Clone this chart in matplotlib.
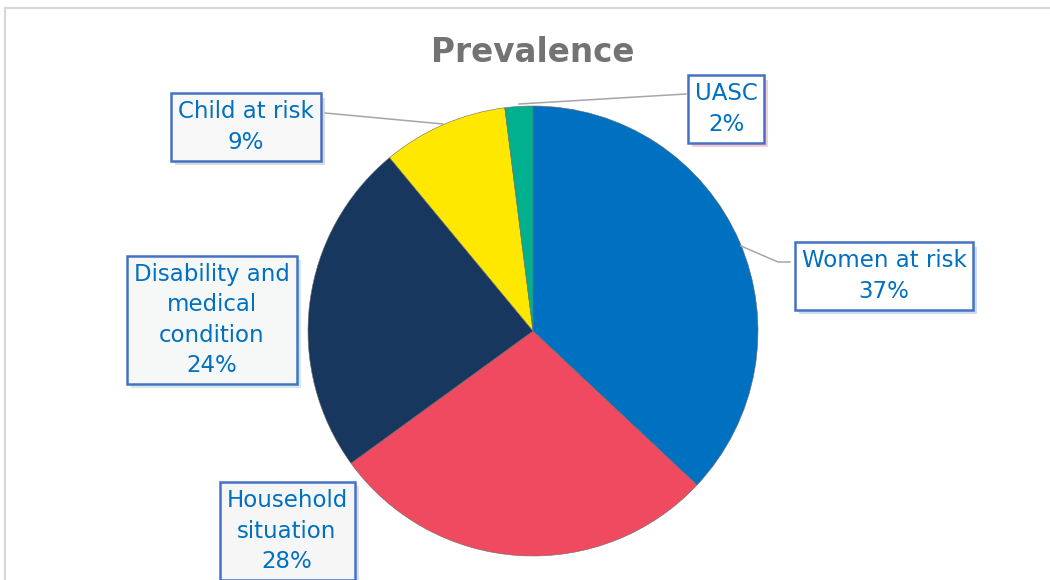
import matplotlib.pyplot as plt
import matplotlib.patheffects as pe
from matplotlib.patches import Rectangle

# --- data ---
categories = ['Women at risk', 'Household\nsituation', 'Disability and\nmedical\ncondition',
              'Child at risk', 'UASC']
shares = [37, 28, 24, 9, 2]
colors = ['#0070c0', '#f04a60', '#17375e', '#ffe800', '#00b08f']

width_px, height_px, dpi = 1050, 580, 100
fig = plt.figure(figsize=(width_px / dpi, height_px / dpi), dpi=dpi, facecolor='white')
ax = fig.add_axes([0, 0, 1, 1])

# chart area border (runs off the right/bottom)
ax.add_patch(Rectangle((5, -20), 1100, 592, fill=False, edgecolor='#d9d9d9', lw=1.6, zorder=0))

cx, cy, r = 533, 580 - 331, 225
wedges, _ = ax.pie(shares, colors=colors, startangle=90, counterclock=False,
                   center=(cx, cy), radius=r, frame=True,
                   wedgeprops=dict(edgecolor='#6b6b6b', linewidth=0.4))
ax.set_xlim(0, width_px)
ax.set_ylim(0, height_px)   # y up, pixel units
ax.set_aspect('equal')
ax.axis('off')

ax.text(cx, 580 - 53, 'Prevalence', ha='center', va='center', fontsize=23.5,
        fontweight='bold', color='#737373')

# label boxes: (center x, center y) in pixels from top, plus leader line points
label_pos = [(884, 276), (287, 531), (212, 320), (246, 127), (726, 109)]
leaders = [
    [(790, 262), (778, 262), (741, 246)],
    None,
    None,
    [(325, 113), (443, 124)],
    [(686, 94), (519, 104)],
]
shadows = ['#a9c3e6', '#c8c8c8', '#b3ded6', '#c4c4c4', '#f0a9b6']
faces = ['white', '#f6f6f6', '#f6f8f8', '#f8f8f8', 'white']

for name, pct, (lx, ly), pts, sh, fc in zip(categories, shares, label_pos, leaders, shadows, faces):
    if pts:
        ax.plot([p[0] for p in pts], [580 - p[1] for p in pts], color='#a6a6a6',
                lw=1.1, zorder=3)
    t = ax.text(lx, 580 - ly, f'{name}\n{pct}%', ha='center', va='center', fontsize=16.5,
                color='#0070c0', linespacing=1.42, zorder=5,
                bbox=dict(boxstyle='square,pad=0.3', facecolor=fc, edgecolor='#4472c4', lw=1.8))
    t.get_bbox_patch().set_path_effects([
        pe.SimplePatchShadow(offset=(3, -3), shadow_rgbFace=sh, alpha=0.6),
        pe.Normal()])

plt.savefig('out.png', dpi=dpi, facecolor='white')
